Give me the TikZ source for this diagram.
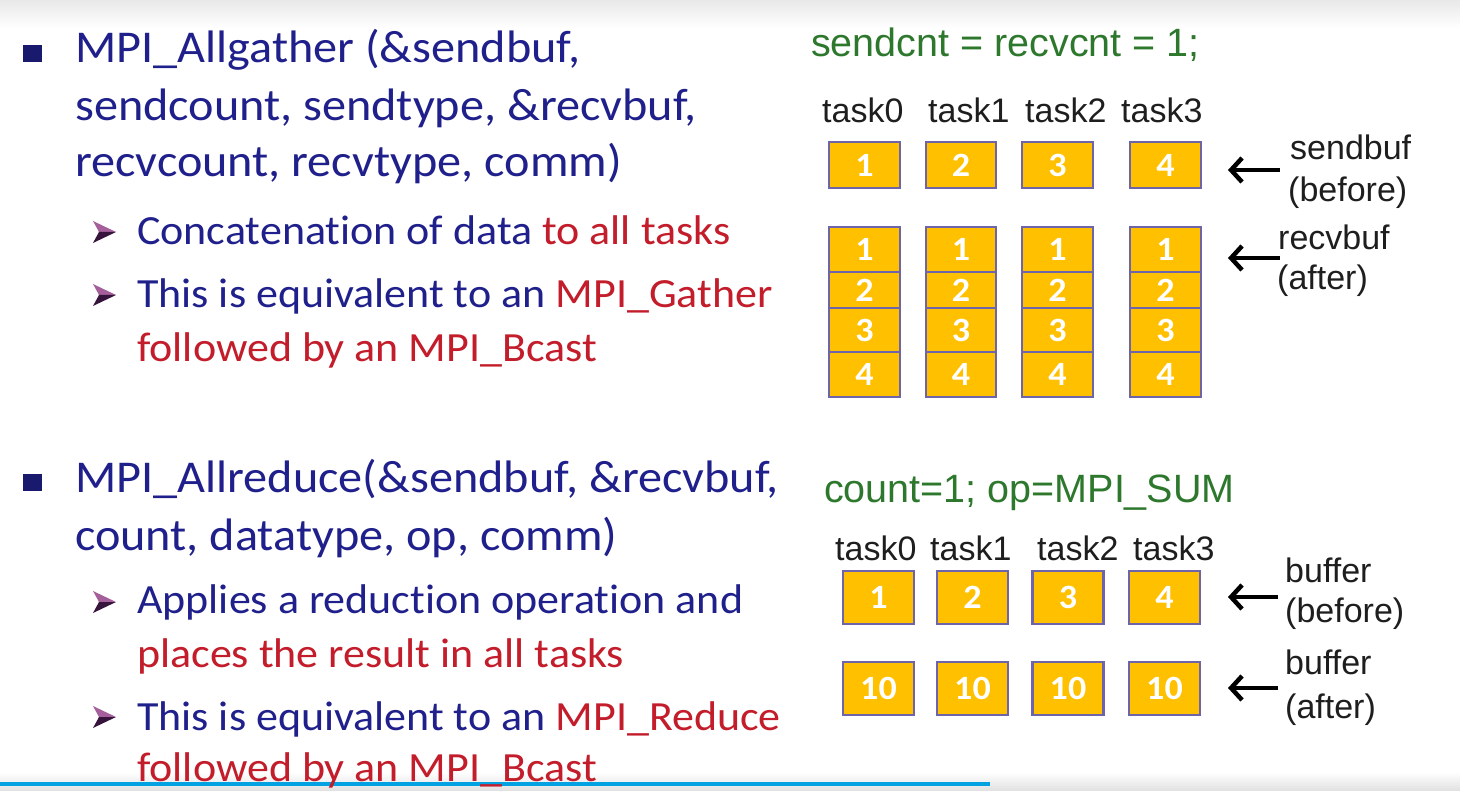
\documentclass[tikz,border=0pt]{standalone}
\usepackage{fontspec}
\setmainfont{Carlito}[FakeStretch=1.06, Ligatures={NoCommon}]
\newfontfamily\labelfont{Liberation Sans}
\usetikzlibrary{arrows.meta}

\definecolor{slideblue}{RGB}{32,32,140}
\definecolor{slidered}{RGB}{195,28,42}
\definecolor{slidegreen}{RGB}{45,120,45}
\definecolor{bulletnavy}{RGB}{25,25,110}
\definecolor{cellfill}{RGB}{255,192,0}
\definecolor{celledge}{RGB}{110,100,170}
\definecolor{labelgray}{RGB}{30,30,30}
\definecolor{rulecyan}{RGB}{0,162,225}
\definecolor{arrowlight}{RGB}{165,95,155}
\definecolor{arrowdark}{RGB}{55,20,60}

\newcommand{\mainsize}{\fontsize{45.5}{54}\selectfont}
\newcommand{\subsize}{\fontsize{41.5}{50}\selectfont}
\newcommand{\lblsize}{\labelfont\fontsize{34}{40}\selectfont}
\newcommand{\hl}[1]{\textcolor{slidered}{#1}}

\tikzset{
  mainline/.style={anchor=base west, inner sep=0pt, text=slideblue, font=\mainsize},
  subline/.style={anchor=base west, inner sep=0pt, text=slideblue, font=\subsize},
  codeline/.style={anchor=base west, inner sep=0pt, text=slidegreen, font=\labelfont\fontsize{39.5}{44}\selectfont},
  tasklbl/.style={anchor=base west, inner sep=0pt, text=labelgray, font=\lblsize},
  bufflbl/.style={anchor=base west, inner sep=0pt, text=labelgray, font=\lblsize},
  square/.style={fill=bulletnavy, minimum width=19pt, minimum height=17pt, inner sep=0pt},
  cell/.style={draw=celledge, fill=cellfill, line width=2.5pt, inner sep=0pt,
    text=white, font=\fontsize{34}{34}\selectfont\bfseries},
  ptr/.style={draw=black, line width=4.5pt, -{Straight Barb[length=11pt,width=24pt]}},
  subbullet/.pic={
    \fill[arrowlight] (0,-11) -- (23,0) -- (6,0) -- cycle;
    \fill[arrowdark] (6,0) -- (23,0) -- (0,11) -- cycle;
  }
}

\begin{document}
\begin{tikzpicture}[x=1pt,y=-1pt]
\useasboundingbox (0,0) rectangle (1460,791);
% slide background
\fill[white] (0,0) rectangle (1460,791);
\shade[top color=black!9, bottom color=white] (0,0) rectangle (1460,28);
\shade[top color=white, bottom color=black!12] (0,772) rectangle (1460,791);
\fill[rulecyan] (0,782) rectangle (990,786);

% ---------- MPI_Allgather ----------
\node[square] (sq1) at (32,53.5) {};
\node[mainline] (ag1) at (75,63) {MPI\_Allgather (\&sendbuf,};
\node[mainline] (ag2) at (75,121) {sendcount, sendtype, \&recvbuf,};
\node[mainline] (ag3) at (75,177) {recvcount, recvtype, comm)};
\pic at (93,232) {subbullet};
\node[subline] (ag4) at (137,245) {Concatenation of data \hl{to all tasks}};
\pic at (93,295) {subbullet};
\node[subline] (ag5) at (137,308) {This is equivalent to an \hl{MPI\_Gather}};
\node[subline, text=slidered] (ag6) at (137,362) {followed by an MPI\_Bcast};

\node[codeline] (agcnt) at (811,57) {sendcnt = recvcnt = 1;};
\node[tasklbl] (gt0) at (822,123) {task0};
\node[tasklbl] (gt1) at (928,123) {task1};
\node[tasklbl] (gt2) at (1025,123) {task2};
\node[tasklbl] (gt3) at (1121,123) {task3};

% send buffers, one value per task, and the gathered receive buffers
\foreach \i/\cx/\w in {0/864.5/71, 1/961/70, 2/1057.5/71, 3/1165.5/71}{
  \pgfmathtruncatemacro{\v}{\i+1}
  \node[cell, minimum width=\w pt, minimum height=46pt] (gs\i) at (\cx,165) {\v};
  \node[cell, minimum width=\w pt, minimum height=45pt] (gr\i a) at (\cx,249.5) {1};
  \node[cell, minimum width=\w pt, minimum height=36pt] (gr\i b) at (\cx,290) {2};
  \node[cell, minimum width=\w pt, minimum height=44pt] (gr\i c) at (\cx,330) {3};
  \node[cell, minimum width=\w pt, minimum height=45pt] (gr\i d) at (\cx,374.5) {4};
}

\node[bufflbl] (lsend) at (1290,160) {sendbuf};
\node[bufflbl] (lsendb) at (1288,202) {(before)};
\node[bufflbl] (lrecv) at (1278,250) {recvbuf};
\node[bufflbl] (lrecva) at (1277,290) {(after)};
\coordinate (p1tail) at (1280,170);
\coordinate (p1tip) at (1228,170);
\coordinate (p2tail) at (1280,258);
\coordinate (p2tip) at (1228,258);
\draw[ptr] (p1tail) -- (p1tip);
\draw[ptr] (p2tail) -- (p2tip);

% ---------- MPI_Allreduce ----------
\node[square] (sq2) at (32,482.5) {};
\node[mainline] (ar1) at (75,493) {MPI\_Allreduce(\&sendbuf, \&recvbuf,};
\node[mainline] (ar2) at (75,550) {count, datatype, op, comm)};
\pic at (93,602) {subbullet};
\node[subline] (ar3) at (137,613) {Applies a reduction operation and};
\node[subline, text=slidered] (ar4) at (137,667) {places the result in all tasks};
\pic at (93,717) {subbullet};
\node[subline] (ar5) at (137,730) {This is equivalent to an \hl{MPI\_Reduce}};
\node[subline, text=slidered] (ar6) at (137,781) {followed by an MPI\_Bcast};

\node[codeline] (arcnt) at (824,503) {count=1; op=MPI\_SUM};
\node[tasklbl] (rt0) at (835,560) {task0};
\node[tasklbl] (rt1) at (930,560) {task1};
\node[tasklbl] (rt2) at (1037,560) {task2};
\node[tasklbl] (rt3) at (1133,560) {task3};

\foreach \i/\cx in {0/878.5, 1/972.5, 2/1068, 3/1164.5}{
  \pgfmathtruncatemacro{\v}{\i+1}
  \node[cell, minimum width=71pt, minimum height=53pt] (rb\i) at (\cx,597.5) {\v};
  \node[cell, minimum width=71pt, minimum height=53pt] (ra\i) at (\cx,688.5) {10};
}

\node[bufflbl] (lbuf1) at (1285,582) {buffer};
\node[bufflbl] (lbuf1b) at (1285,622) {(before)};
\node[bufflbl] (lbuf2) at (1285,674) {buffer};
\node[bufflbl] (lbuf2a) at (1285,718) {(after)};
\coordinate (p3tail) at (1278,597);
\coordinate (p3tip) at (1228,597);
\coordinate (p4tail) at (1278,688);
\coordinate (p4tip) at (1228,688);
\draw[ptr] (p3tail) -- (p3tip);
\draw[ptr] (p4tail) -- (p4tip);
\end{tikzpicture}
\end{document}
